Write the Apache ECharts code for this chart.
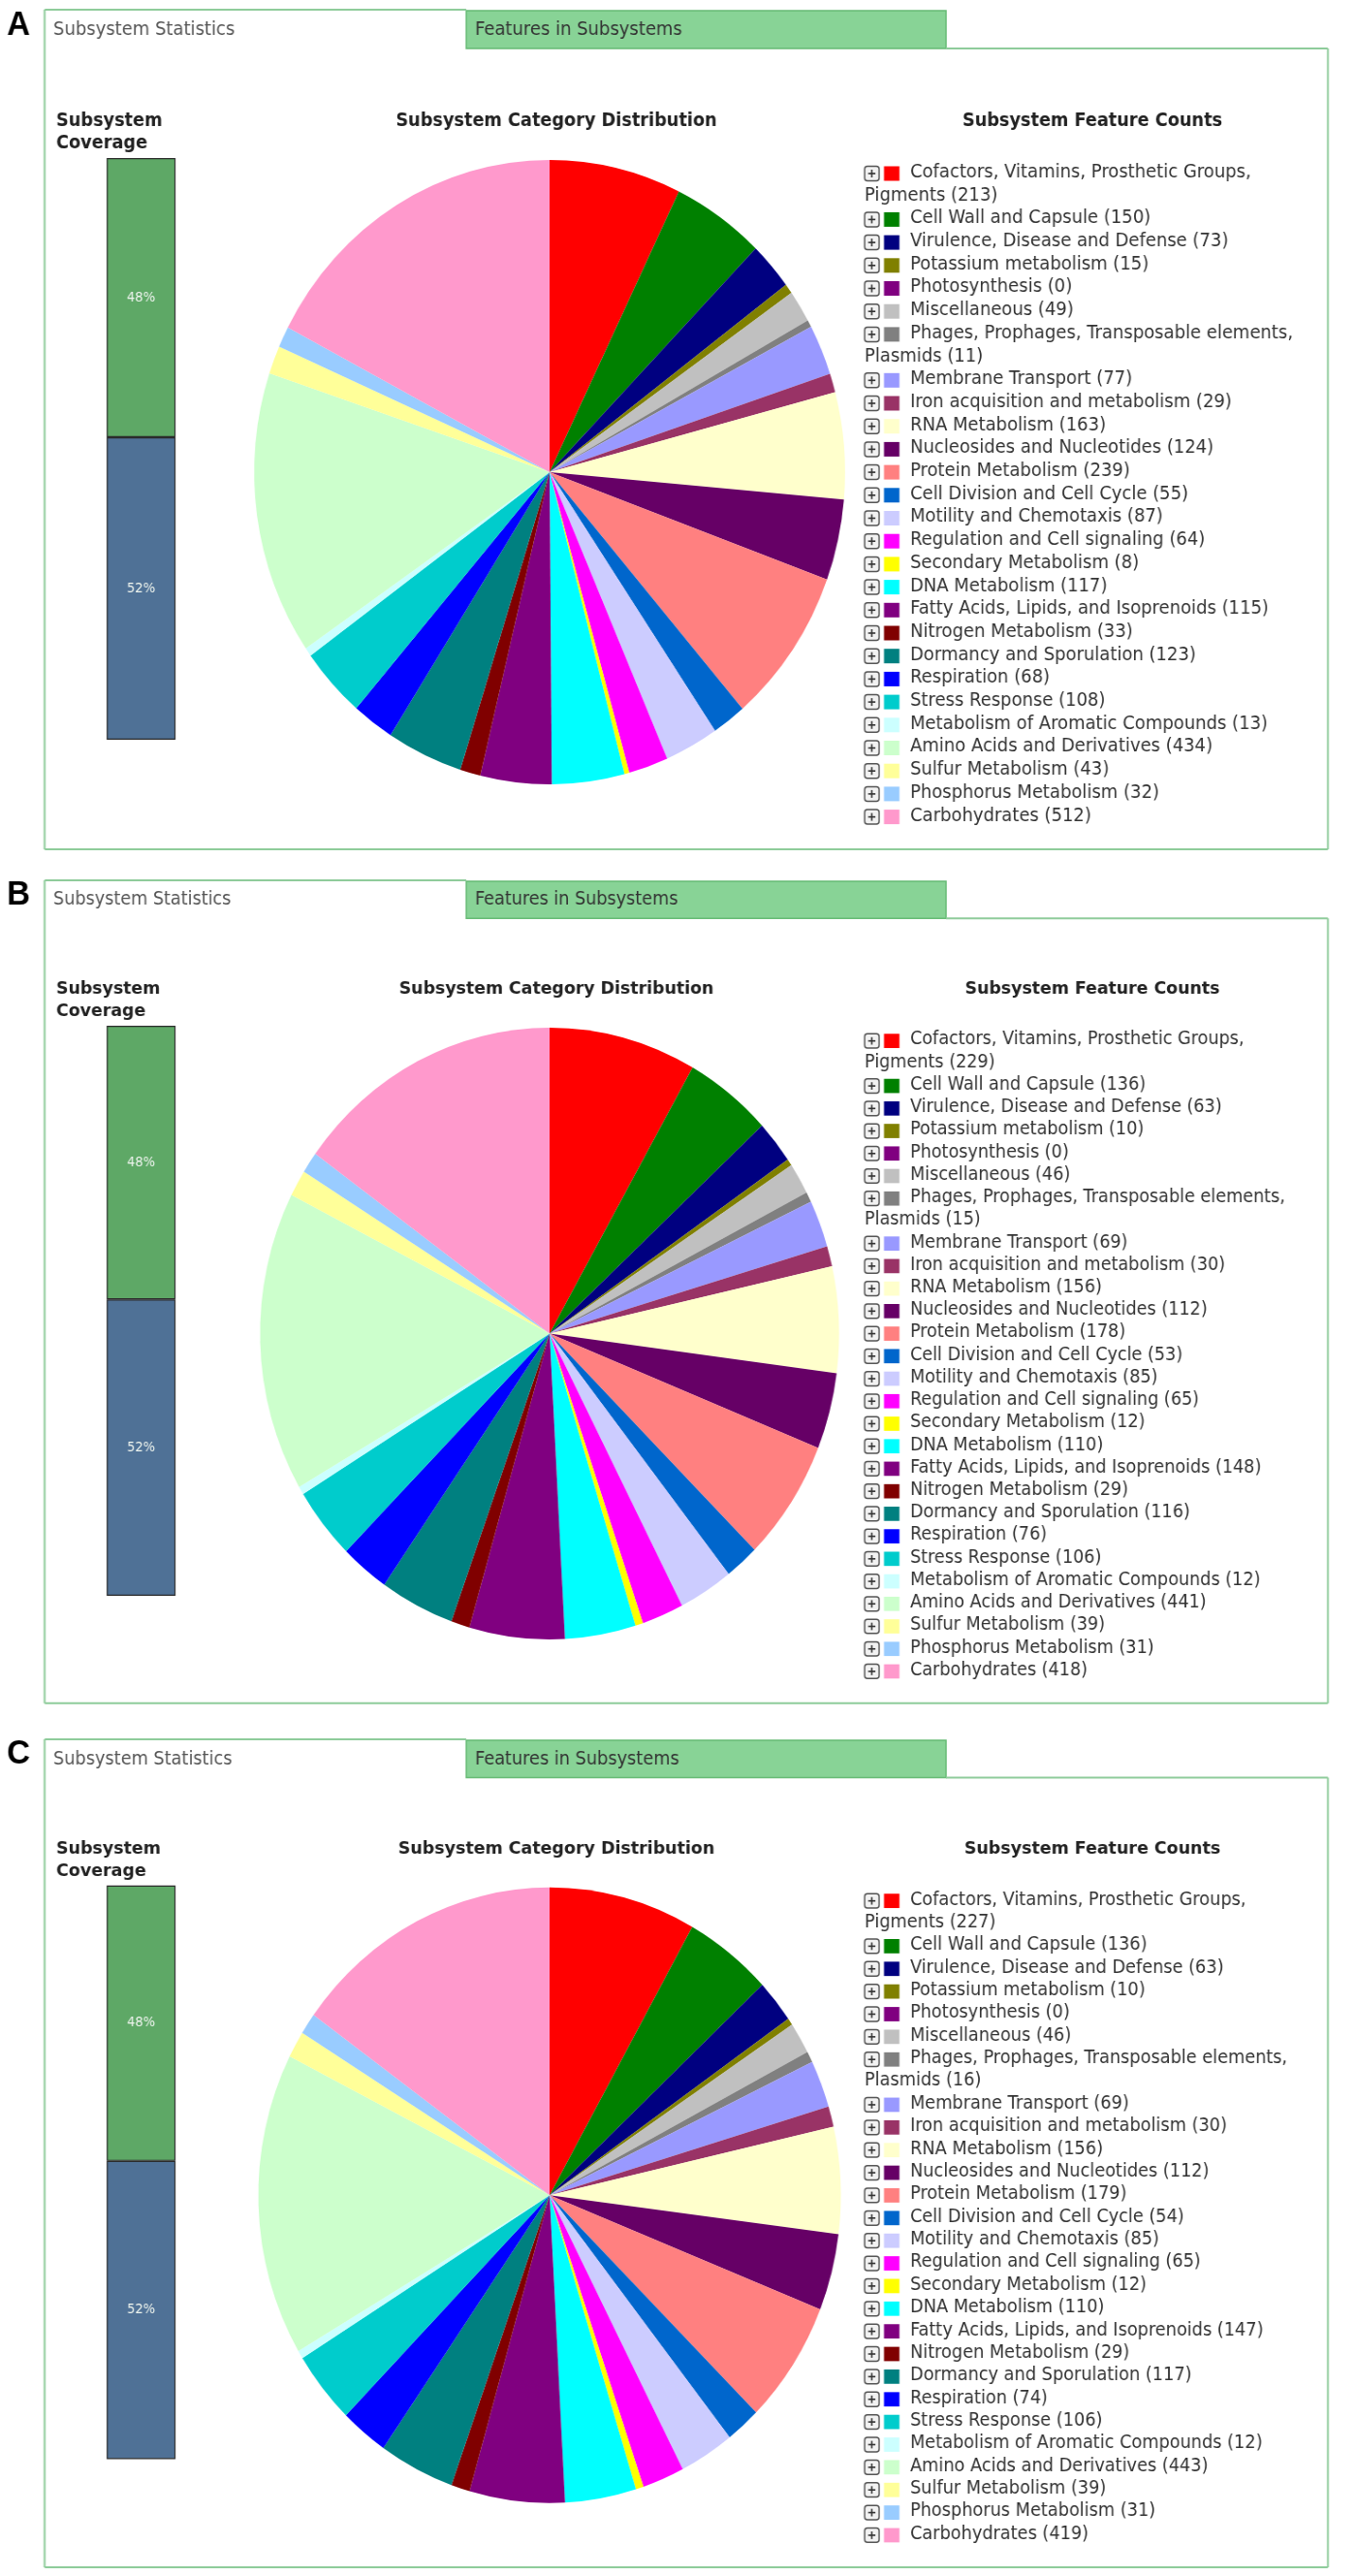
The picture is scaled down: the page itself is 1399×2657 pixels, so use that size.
<!DOCTYPE html>
<html><head><meta charset="utf-8">
<script src="https://cdn.jsdelivr.net/npm/echarts@6/dist/echarts.min.js"></script>
<style>
html,body{margin:0;padding:0;background:#fff;overflow:hidden;}
#wrap{width:1399px;height:2657px;overflow:hidden;position:relative;background:#fff;}
#chart{width:1478px;height:2657px;transform:scaleX(0.9466);transform-origin:0 0;}
</style></head><body><div id="wrap"><div id="chart"></div></div>
<script>
// ---------------- data ----------------
const categories = [
  'Cofactors, Vitamins, Prosthetic Groups, Pigments',
  'Cell Wall and Capsule',
  'Virulence, Disease and Defense',
  'Potassium metabolism',
  'Photosynthesis',
  'Miscellaneous',
  'Phages, Prophages, Transposable elements, Plasmids',
  'Membrane Transport',
  'Iron acquisition and metabolism',
  'RNA Metabolism',
  'Nucleosides and Nucleotides',
  'Protein Metabolism',
  'Cell Division and Cell Cycle',
  'Motility and Chemotaxis',
  'Regulation and Cell signaling',
  'Secondary Metabolism',
  'DNA Metabolism',
  'Fatty Acids, Lipids, and Isoprenoids',
  'Nitrogen Metabolism',
  'Dormancy and Sporulation',
  'Respiration',
  'Stress Response',
  'Metabolism of Aromatic Compounds',
  'Amino Acids and Derivatives',
  'Sulfur Metabolism',
  'Phosphorus Metabolism',
  'Carbohydrates'
];
const categoryColors = [
  '#ff0000','#008000','#000080','#808000','#800080','#c0c0c0','#808080',
  '#9999ff','#993366','#ffffcc','#660066','#ff8080','#0066cc','#ccccff',
  '#ff00ff','#ffff00','#00ffff','#800080','#800000','#008080','#0000ff',
  '#00cccc','#ccffff','#ccffcc','#ffff99','#99ccff','#ff99cc'
];
const countsA = [213,150,73,15,0,49,11,77,29,163,124,239,55,87,64,8,117,115,33,123,68,108,13,434,43,32,512];
const countsB = [229,136,63,10,0,46,15,69,30,156,112,178,53,85,65,12,110,148,29,116,76,106,12,441,39,31,418];
const countsC = [227,136,63,10,0,46,16,69,30,156,112,179,54,85,65,12,110,147,29,117,74,106,12,443,39,31,419];
const coverageInA = 48, coverageOutA = 52;
const coverageInB = 48, coverageOutB = 52;
const coverageInC = 48, coverageOutC = 52;
const panelLetters = ['A','B','C'];
const tabLabels = ['Subsystem Statistics','Features in Subsystems'];
const coverageTitle = ['Subsystem','Coverage'];
const pieTitle = 'Subsystem Category Distribution';
const legendTitle = 'Subsystem Feature Counts';

// ---------------- layout ----------------
const S = 0.9466;                 // horizontal squeeze of the reference
const X = v => v / S;             // reference x -> chart x
const panelTops = [10, 908, 1794];
const panelScale = [1, 0.980, 0.986];
const panelCounts = [countsA, countsB, countsC];
const panelCoverage = [[coverageInA, coverageOutA],[coverageInB, coverageOutB],[coverageInC, coverageOutC]];
const FONT = '"DejaVu Sans", Verdana, sans-serif';
const frameColor = '#8fcc9b';

const measureCtx = document.createElement('canvas').getContext('2d');
function textW(t, fs){ measureCtx.font = fs + 'px ' + FONT; return measureCtx.measureText(t).width; }
function wrapText(text, fs, x0, xWrap, xMax){
  const words = text.split(' ');
  const lines = []; let cur = ''; let startX = x0;
  words.forEach(w => {
    const test = cur ? cur + ' ' + w : w;
    if (cur && startX + textW(test, fs) > xMax) { lines.push(cur); cur = w; startX = xWrap; }
    else cur = test;
  });
  if (cur) lines.push(cur);
  return lines;
}

const graphics = [];
const grids = [], xAxes = [], yAxes = [], series = [];
function txt(x, y, t, fs, opts){
  opts = opts || {};
  graphics.push({type:'text', silent:true, z:10, style:{
    x:x, y:y, text:t, fontSize:fs, fontFamily:opts.family||FONT, fontWeight:opts.weight||'normal',
    fill:opts.fill||'#333', textAlign:opts.align||'left', textVerticalAlign:'middle',
    align:opts.align||'left', verticalAlign:'middle'}});
}
function line(x1,y1,x2,y2,color,w,z){
  graphics.push({type:'line', silent:true, z:z||5, shape:{x1:x1,y1:y1,x2:x2,y2:y2}, style:{stroke:color, lineWidth:w}});
}

panelTops.forEach((T, p) => {
  const k = panelScale[p];
  const Y = off => T + off * k;
  const bottom = Y(866);
  const fL = X(46), fR = X(1370), tabL = X(481), tabR = X(976);
  // frame + tabs
  graphics.push({type:'rect', silent:true, z:4, shape:{x:tabL, y:T+1, width:tabR-tabL, height:39*k},
    style:{fill:'#88d396', stroke:'#66bb74', lineWidth:1.5}});
  line(fL, T, fL, bottom, frameColor, 2);
  line(fL, T, tabL, T, frameColor, 2);
  line(tabR, Y(40), fR, Y(40), frameColor, 2);
  line(fR, Y(40), fR, bottom, frameColor, 2);
  line(fL, bottom, fR, bottom, frameColor, 2);
  txt(X(55), Y(21), tabLabels[0], 19*k, {fill:'#555'});
  txt(X(490), Y(21), tabLabels[1], 19*k, {fill:'#333'});
  // panel letter
  txt(X(7), T + 16*k, panelLetters[p], 35, {weight:'bold', family:'"Liberation Sans", Arial, sans-serif', fill:'#000'});
  // headers
  txt(X(58), Y(115), coverageTitle[0], 18.7*k, {weight:'bold', fill:'#222'});
  txt(X(58), Y(138), coverageTitle[1], 18.7*k, {weight:'bold', fill:'#222'});
  txt(X(574), Y(115), pieTitle, 18.7*k, {weight:'bold', fill:'#222', align:'center'});
  txt(X(1127), Y(115), legendTitle, 18.7*k, {weight:'bold', fill:'#222', align:'center'});
  // legend
  const counts = panelCounts[p];
  const fs = 19 * k;
  let ln = 0;
  categories.forEach((name, i) => {
    const yc = Y(168 + ln * 23.7) + 1;
    // expand (plus) box
    const bx = X(892), bw = X(906) - X(892) + 1, bh = 15 * k;
    graphics.push({type:'rect', silent:true, z:6, shape:{x:bx, y:yc - bh/2, width:bw, height:bh, r:3},
      style:{fill:'#f2f2f2', stroke:'#555', lineWidth:1.5}});
    line(bx + 4, yc, bx + bw - 4, yc, '#333', 1.6, 8);
    line(bx + bw/2, yc - bh/2 + 3.5, bx + bw/2, yc + bh/2 - 3.5, '#333', 1.6, 8);
    // color swatch
    graphics.push({type:'rect', silent:true, z:6, shape:{x:X(912), y:yc - 7.5*k, width:X(927)-X(912)+1, height:15*k},
      style:{fill:categoryColors[i]}});
    const lines = wrapText(name + ' (' + counts[i] + ')', fs, X(939), X(892), X(1362));
    lines.forEach((l, j) => {
      txt(j === 0 ? X(939) : X(892), Y(168 + (ln + j) * 23.7), l, fs, {fill:'#333'});
    });
    ln += lines.length;
  });
  // pie
  series.push({
    type:'pie', silent:true, animation:false,
    center:[X(567), Y(477)], radius: 322 * k,
    startAngle:90, clockwise:true, avoidLabelOverlap:false,
    label:{show:false}, labelLine:{show:false},
    itemStyle:{borderWidth:0},
    data: categories.map((n, i) => ({name:n, value:counts[i], itemStyle:{color:categoryColors[i]}}))
  });
  // coverage bar
  grids.push({left:X(110), top:Y(153), width:X(181)-X(110), height:600*k, containLabel:false});
  xAxes.push({type:'category', gridIndex:p, data:['Coverage'], show:false});
  yAxes.push({type:'value', gridIndex:p, min:0, max:100, show:false});
  const cov = panelCoverage[p];
  const barLabel = {show:true, position:'inside', formatter:'{c}%', color:'#eef4ee', fontSize:14*k, fontFamily:FONT};
  series.push({type:'bar', xAxisIndex:p, yAxisIndex:p, stack:'cov'+p, barWidth:'100%', silent:true, animation:false,
    data:[cov[1]], itemStyle:{color:'#4f7196', borderColor:'#2b2b2b', borderWidth:1.2}, label:barLabel});
  series.push({type:'bar', xAxisIndex:p, yAxisIndex:p, stack:'cov'+p, barWidth:'100%', silent:true, animation:false,
    data:[cov[0]], itemStyle:{color:'#5ea866', borderColor:'#2b2b2b', borderWidth:1.2}, label:barLabel});
});

const chart = echarts.init(document.getElementById('chart'), null, {renderer:'canvas'});
chart.setOption({
  backgroundColor:'#ffffff',
  animation:false,
  grid:grids, xAxis:xAxes, yAxis:yAxes,
  series:series,
  graphic:{elements:graphics}
});
</script></body></html>
